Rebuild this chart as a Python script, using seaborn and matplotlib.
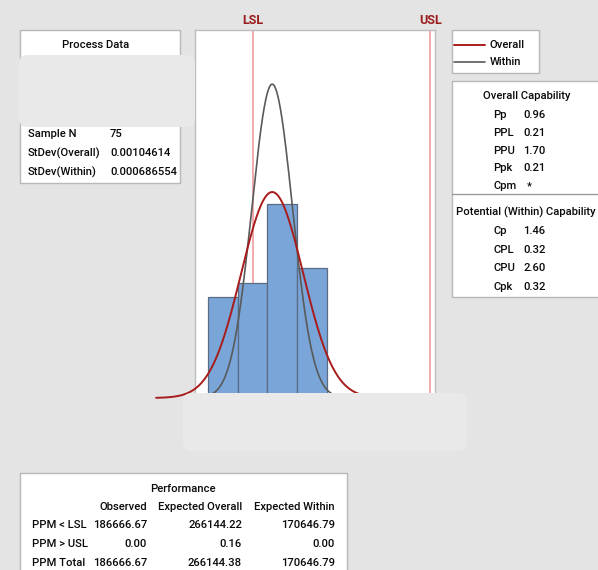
import numpy as np
import pandas as pd
import seaborn as sns
import matplotlib
matplotlib.use("Agg")
import matplotlib.pyplot as plt
from matplotlib.patches import Rectangle, FancyBboxPatch
from matplotlib.lines import Line2D

# ---------------- data ----------------
LSL = 0.100
USL = 0.106
bin_centers = [0.099, 0.100, 0.101, 0.102]
bin_counts = [14, 16, 27, 18]
bin_edges = [0.0985, 0.0995, 0.1005, 0.1015, 0.1025]
sample_n = 75
mean_val = 0.100659
stdev_overall = 0.00104614
stdev_within = 0.000686554

process_labels = ["Sample N", "StDev(Overall)", "StDev(Within)"]
process_values = ["75", "0.00104614", "0.000686554"]

overall_labels = ["Pp", "PPL", "PPU", "Ppk", "Cpm"]
overall_values = ["0.96", "0.21", "1.70", "0.21", "*"]
within_labels = ["Cp", "CPL", "CPU", "Cpk"]
within_values = ["1.46", "0.32", "2.60", "0.32"]

perf_cols = ["Observed", "Expected Overall", "Expected Within"]
perf_rows = ["PPM < LSL", "PPM > USL", "PPM Total"]
perf_observed = ["186666.67", "0.00", "186666.67"]
perf_exp_overall = ["266144.22", "0.16", "266144.38"]
perf_exp_within = ["170646.79", "0.00", "170646.79"]

# ---------------- style ----------------
sns.set_theme(style="white")
plt.rcParams['font.family'] = ['Roboto', 'DejaVu Sans']

W, H = 598, 570
BG = '#e4e4e4'
FS = 8.1
fig = plt.figure(figsize=(W / 100, H / 100), dpi=100)
fig.patch.set_facecolor(BG)


def fx(x):
    return x / W


def fy(y):
    return 1 - y / H


def ftext(x, y, s, ha='left', size=FS, color='#0a0a0a', weight='medium'):
    fig.text(fx(x), fy(y), s, ha=ha, va='center', fontsize=size, color=color,
             weight=weight)


def fbox(x0, y0, x1, y1, fc='white', ec='#b8b8b8', lw=1.0, z=1):
    fig.patches.append(Rectangle((fx(x0), fy(y1)), fx(x1) - fx(x0), fy(y0) - fy(y1),
                                 transform=fig.transFigure, facecolor=fc,
                                 edgecolor=ec, linewidth=lw, zorder=z))


# ---------------- main histogram ----------------
ax = fig.add_axes([fx(195), fy(398), fx(435) - fx(195), fy(30) - fy(398)])
ax.set_facecolor('white')
df = pd.DataFrame({'x': bin_centers, 'w': bin_counts})
sns.histplot(data=df, x='x', weights='w', bins=bin_edges, ax=ax,
             color='#79a5d8', edgecolor='#5a6b84', linewidth=0.9, alpha=1.0,
             zorder=2)

bw = bin_edges[1] - bin_edges[0]
xs_o = np.linspace(mean_val - 3.75 * stdev_overall, mean_val + 3.75 * stdev_overall, 300)
ys_o = sample_n * bw * np.exp(-0.5 * ((xs_o - mean_val) / stdev_overall) ** 2) / (stdev_overall * np.sqrt(2 * np.pi))
xs_w = np.linspace(mean_val - 4 * stdev_within, mean_val + 4 * stdev_within, 300)
ys_w = sample_n * bw * np.exp(-0.5 * ((xs_w - mean_val) / stdev_within) ** 2) / (stdev_within * np.sqrt(2 * np.pi))

ax.axvline(LSL, color='#f0a4a4', lw=1.3, zorder=1)
ax.axvline(USL, color='#f0a4a4', lw=1.3, zorder=1)
sns.lineplot(x=xs_w, y=ys_w, ax=ax, color='#5a5a5a', lw=1.2, zorder=4)
sns.lineplot(x=xs_o, y=ys_o, ax=ax, color='#a81c1c', lw=1.4, zorder=5, clip_on=False)

ax.set_xlim(0.098050, 0.106161)
ax.set_ylim(0, 51.1)
ax.set_xticks([])
ax.set_yticks([])
ax.set_xlabel('')
ax.set_ylabel('')
for s in ax.spines.values():
    s.set_color('#bdbdbd')
    s.set_linewidth(1.0)

ftext(253, 20, 'LSL', ha='center', size=9, color='#9b1c1c', weight='bold')
ftext(431, 20, 'USL', ha='center', size=9, color='#9b1c1c', weight='bold')

# ---------------- process data ----------------
fbox(20, 30, 180, 183)
ftext(96, 45, 'Process Data', ha='center')
for i, (lab, val) in enumerate(zip(process_labels, process_values)):
    y = 134 + i * 19
    ftext(28, y, lab)
    ftext(110, y, val)

# ---------------- legend ----------------
fbox(452, 30, 539, 73)
fig.lines.append(Line2D([fx(454), fx(485)], [fy(45), fy(45)], transform=fig.transFigure,
                        color='#a81c1c', lw=1.4))
fig.lines.append(Line2D([fx(454), fx(485)], [fy(62), fy(62)], transform=fig.transFigure,
                        color='#5a5a5a', lw=1.2))
ftext(490, 45, 'Overall')
ftext(490, 62, 'Within')

# ---------------- capability ----------------
fbox(452, 81, 602, 297)
fig.lines.append(Line2D([fx(452), fx(598)], [fy(194), fy(194)], transform=fig.transFigure,
                        color='#9a9a9a', lw=1.0))
ftext(527, 96, 'Overall Capability', ha='center')
for i, (lab, val) in enumerate(zip(overall_labels, overall_values)):
    y = 115 + i * 17.8
    ftext(493, y, lab)
    ftext(523 if val != '*' else 527, y, val)
ftext(596, 212, 'Potential (Within) Capability', ha='right')
for i, (lab, val) in enumerate(zip(within_labels, within_values)):
    y = 231 + i * 18.7
    ftext(493, y, lab)
    ftext(523, y, val)

# ---------------- performance ----------------
fbox(20, 473, 347, 580)
ftext(183, 489, 'Performance', ha='center')
col_right = [147, 242, 335]
for c, name in zip(col_right, perf_cols):
    ftext(c, 507, name, ha='right')
for i, lab in enumerate(perf_rows):
    y = 525 + i * 19
    ftext(32, y, lab)
    for c, vals in zip(col_right, [perf_observed, perf_exp_overall, perf_exp_within]):
        ftext(c, y, vals[i], ha='right')

# ---------------- redaction blocks ----------------
for (x0, y0, x1, y1) in [(19, 55, 195, 127), (183, 393, 467, 451)]:
    fig.patches.append(FancyBboxPatch((fx(x0), fy(y1)), fx(x1) - fx(x0), fy(y0) - fy(y1),
                                      boxstyle='round,pad=0,rounding_size=0.015',
                                      transform=fig.transFigure, facecolor='#e9e9e9',
                                      edgecolor='none', zorder=20))

fig.savefig('out.png', dpi=100, facecolor=BG)
